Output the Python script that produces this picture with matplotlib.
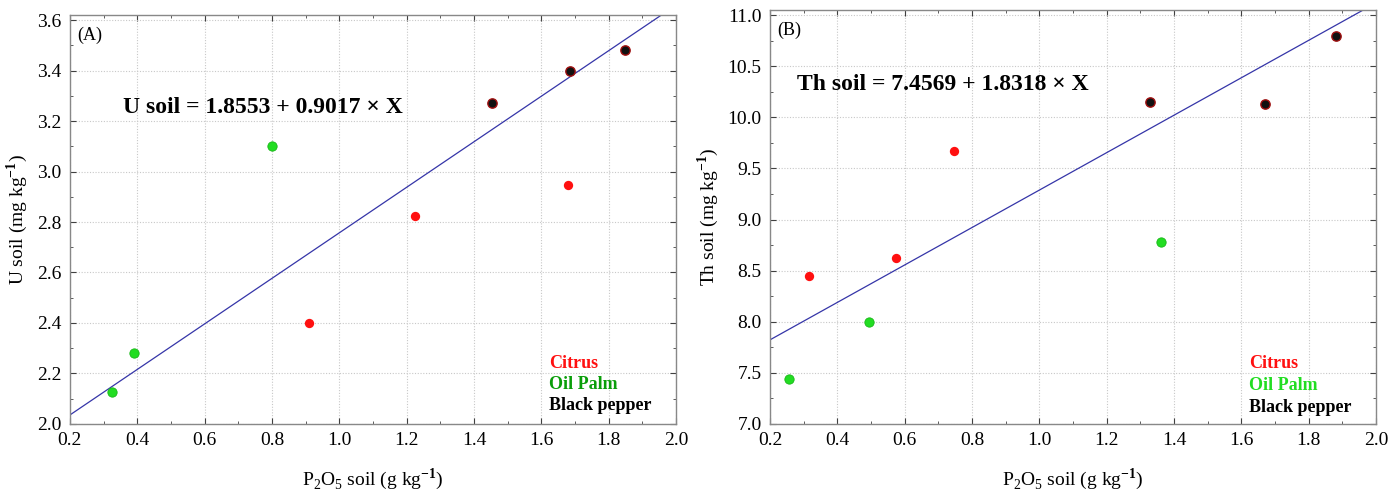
import matplotlib
matplotlib.use("Agg")
import matplotlib.pyplot as plt
import numpy as np
from matplotlib.ticker import MultipleLocator

plt.rcParams["font.family"] = ["Liberation Serif", "DejaVu Serif"]
plt.rcParams["mathtext.fontset"] = "custom"
plt.rcParams["mathtext.rm"] = "Liberation Serif"
plt.rcParams["mathtext.bf"] = "Liberation Serif:bold"

# Panel A: U in soil
a_citrus_x = [0.91, 1.225, 1.68]
a_citrus_y = [2.40, 2.825, 2.945]
a_palm_x = [0.325, 0.39, 0.80]
a_palm_y = [2.125, 2.28, 3.10]
a_pepper_x = [1.455, 1.685, 1.85]
a_pepper_y = [3.27, 3.40, 3.48]
a_coef = (1.8553, 0.9017)

# Panel B: Th in soil
b_citrus_x = [0.315, 0.575, 0.745]
b_citrus_y = [8.45, 8.62, 9.67]
b_palm_x = [0.255, 0.495, 1.36]
b_palm_y = [7.44, 8.00, 8.78]
b_pepper_x = [1.33, 1.67, 1.88]
b_pepper_y = [10.15, 10.13, 10.80]
b_coef = (7.4569, 1.8318)

xticks = [0.2, 0.4, 0.6, 0.8, 1.0, 1.2, 1.4, 1.6, 1.8, 2.0]

fig = plt.figure(figsize=(13.98, 4.91), dpi=100)
axA = fig.add_axes([0.050, 0.1365, 0.4335, 0.833])
axB = fig.add_axes([0.5508, 0.1365, 0.4335, 0.843])


def draw(ax, cx, cy, px, py, bx, by, coef, ylim, ymajor, yminor, ylabel,
         tag, eq, eqpos, legx, legy, palm_leg):
    ax.set_xlim(0.2, 2.0)
    ax.set_ylim(*ylim)
    ax.grid(True, color="#c8c8c8", linestyle=(0, (1, 1.5)), linewidth=0.8)
    ax.set_axisbelow(True)
    xs = np.array([0.2, 2.0])
    ax.plot(xs, coef[0] + coef[1] * xs, color="#3535a8", linewidth=0.9,
            zorder=2)
    ax.scatter(cx, cy, s=45, color="#ff1010", zorder=3, linewidths=0)
    ax.scatter(px, py, s=45, color="#22dd22", edgecolors="#18b818",
               linewidths=0.6, zorder=3)
    ax.scatter(bx, by, s=45, color="#111111", edgecolors="#a01010",
               linewidths=1.0, zorder=3)
    ax.set_xticks(xticks)
    ax.xaxis.set_minor_locator(MultipleLocator(0.1))
    ax.yaxis.set_major_locator(MultipleLocator(ymajor))
    ax.yaxis.set_minor_locator(MultipleLocator(yminor))
    ax.tick_params(which="both", direction="in", top=True, right=True,
                   color="#404040", labelsize=14, pad=6)
    ax.tick_params(which="major", length=4)
    ax.tick_params(which="minor", length=2.5)
    for s in ax.spines.values():
        s.set_color("#888888")
        s.set_linewidth(1.0)
    ax.set_ylabel(ylabel, fontsize=14, labelpad=5)
    ax.set_xlabel(r"P$_2$O$_5$ soil (g kg$^{\mathbf{-1}}$)", fontsize=14,
                  labelpad=12)
    ax.text(0.012, 0.95, tag, transform=ax.transAxes, fontsize=13,
            va="center", ha="left")
    ax.text(eqpos[0], eqpos[1], eq, transform=ax.transAxes, fontsize=17,
            fontweight="bold", va="center", ha="left")
    ax.text(legx, legy, "Citrus", transform=ax.transAxes, fontsize=13,
            fontweight="bold", color="#ff1010", va="center")
    ax.text(legx, legy - 0.052, "Oil Palm", transform=ax.transAxes,
            fontsize=13, fontweight="bold", color=palm_leg, va="center")
    ax.text(legx, legy - 0.104, "Black pepper", transform=ax.transAxes,
            fontsize=13, fontweight="bold", color="black", va="center")


draw(axA, a_citrus_x, a_citrus_y, a_palm_x, a_palm_y, a_pepper_x, a_pepper_y,
     a_coef, (2.0, 3.62), 0.2, 0.1, r"U soil (mg kg$^{\mathbf{-1}}$)", "(A)",
     "U soil = 1.8553 + 0.9017 × X", (0.088, 0.775), 0.79, 0.148, "#0a9e0a")
draw(axB, b_citrus_x, b_citrus_y, b_palm_x, b_palm_y, b_pepper_x, b_pepper_y,
     b_coef, (7.0, 11.05), 0.5, 0.25, r"Th soil (mg kg$^{\mathbf{-1}}$)", "(B)",
     "Th soil = 7.4569 + 1.8318 × X", (0.045, 0.82), 0.79, 0.145, "#22dd22")
axB.yaxis.set_major_formatter(plt.FormatStrFormatter("%.1f"))

fig.savefig("out.png", dpi=100)
